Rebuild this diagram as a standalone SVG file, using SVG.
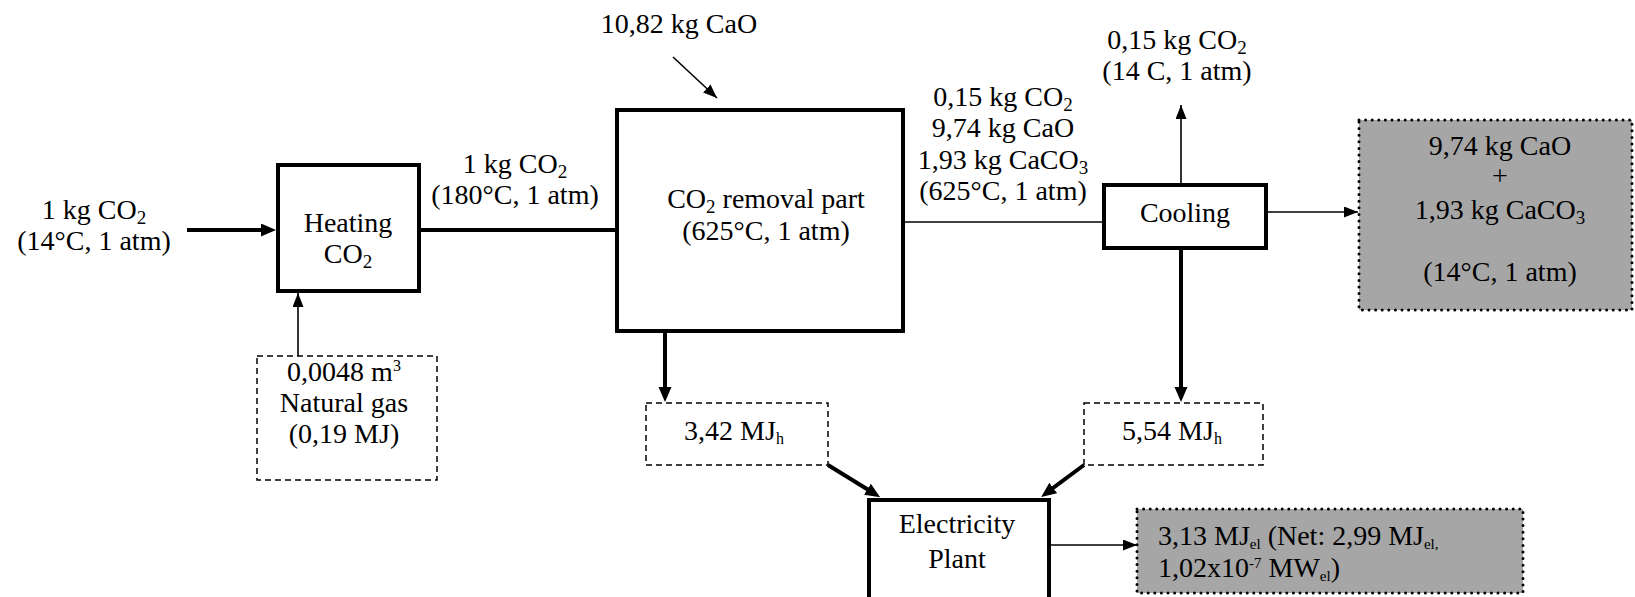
<svg xmlns="http://www.w3.org/2000/svg" width="1635" height="597" viewBox="0 0 1635 597">
<defs>
<style>
text{font-family:"Liberation Serif","Times New Roman",serif;font-size:28px;fill:#000;text-anchor:middle}
text.l{text-anchor:start}
.box{fill:#fff;stroke:#000;stroke-width:4}
.dash{fill:#fff;stroke:#000;stroke-width:1.5;stroke-dasharray:6 4}
.dot{fill:#a6a6a6;stroke:#000;stroke-width:3;stroke-dasharray:0 6.6;stroke-linecap:round}
.thick{fill:none;stroke:#000;stroke-width:4}
.thin{fill:none;stroke:#000;stroke-width:1.6}
</style>
<marker id="ahk" markerUnits="userSpaceOnUse" markerWidth="16" markerHeight="14" refX="8" refY="6.5" orient="auto">
<path d="M0,0 L15,6.5 L0,13 z" fill="#000"/>
</marker>
<marker id="ahn" markerUnits="userSpaceOnUse" markerWidth="15" markerHeight="12" refX="14" refY="5.5" orient="auto">
<path d="M0,0 L14,5.5 L0,11 z" fill="#000"/>
</marker>
</defs>
<rect width="1635" height="597" fill="#fff"/>

<g id="connectors">
<line class="thick" x1="187" y1="230" x2="269" y2="230" marker-end="url(#ahk)"/>
<line class="thick" x1="421" y1="230" x2="615" y2="230"/>
<line class="thin" x1="298" y1="356" x2="298" y2="293" marker-end="url(#ahn)"/>
<line class="thin" x1="673" y1="57" x2="717" y2="98" marker-end="url(#ahn)"/>
<line class="thin" x1="905" y1="222" x2="1102" y2="222"/>
<line class="thin" x1="1181" y1="185" x2="1181" y2="105" marker-end="url(#ahn)"/>
<line class="thin" x1="1268" y1="212" x2="1358" y2="212" marker-end="url(#ahn)"/>
<line class="thick" x1="665" y1="333" x2="665" y2="395" marker-end="url(#ahk)"/>
<line class="thick" x1="1181" y1="250" x2="1181" y2="395" marker-end="url(#ahk)"/>
<line class="thick" x1="828" y1="465" x2="874.2" y2="493.5" marker-end="url(#ahk)"/>
<line class="thick" x1="1084" y1="465" x2="1046.8" y2="492.7" marker-end="url(#ahk)"/>
<line class="thin" x1="1051" y1="545" x2="1137" y2="545" marker-end="url(#ahn)"/>
</g>

<g id="input-label">
<text x="94" y="219">1 kg CO<tspan font-size="19" dy="5">2</tspan></text>
<text x="94" y="250">(14°C, 1 atm)</text>
</g>

<g id="heating">
<rect class="box" x="278" y="165" width="141" height="126"/>
<text x="348" y="232">Heating</text>
<text x="348" y="263">CO<tspan font-size="19" dy="5">2</tspan></text>
</g>

<g id="natural-gas">
<rect class="dash" x="257" y="356" width="180" height="124"/>
<text x="344" y="381">0,0048 m<tspan font-size="16" dy="-10">3</tspan></text>
<text x="344" y="412">Natural gas</text>
<text x="344" y="443">(0,19 MJ)</text>
</g>

<g id="heated-co2-label">
<text x="515" y="173">1 kg CO<tspan font-size="19" dy="5">2</tspan></text>
<text x="515" y="204">(180°C, 1 atm)</text>
</g>

<g id="cao-input">
<text x="679" y="33">10,82 kg CaO</text>
</g>

<g id="co2-removal">
<rect class="box" x="617" y="110" width="286" height="221"/>
<text x="766" y="208">CO<tspan font-size="19" dy="5">2</tspan><tspan dy="-5"> removal part</tspan></text>
<text x="766" y="240">(625°C, 1 atm)</text>
</g>

<g id="removal-output-label">
<text x="1003" y="106">0,15 kg CO<tspan font-size="19" dy="5">2</tspan></text>
<text x="1003" y="137">9,74 kg CaO</text>
<text x="1003" y="169">1,93 kg CaCO<tspan font-size="19" dy="5">3</tspan></text>
<text x="1003" y="200">(625°C, 1 atm)</text>
</g>

<g id="cooling">
<rect class="box" x="1104" y="185" width="162" height="63"/>
<text x="1185" y="222">Cooling</text>
</g>

<g id="co2-out-label">
<text x="1177" y="49">0,15 kg CO<tspan font-size="19" dy="5">2</tspan></text>
<text x="1177" y="80">(14 C, 1 atm)</text>
</g>

<g id="solids-out">
<rect class="dot" x="1359" y="120" width="273" height="190"/>
<text x="1500" y="155">9,74 kg CaO</text>
<text x="1500" y="185" fill="#444">+</text>
<text x="1500" y="219">1,93 kg CaCO<tspan font-size="19" dy="5">3</tspan></text>
<text x="1500" y="281">(14°C, 1 atm)</text>
</g>

<g id="heat-342">
<rect class="dash" x="646" y="403" width="182" height="62"/>
<text x="734" y="440">3,42 MJ<tspan font-size="16" dy="4">h</tspan></text>
</g>

<g id="heat-554">
<rect class="dash" x="1084" y="403" width="179" height="62"/>
<text x="1172" y="440">5,54 MJ<tspan font-size="16" dy="4">h</tspan></text>
</g>

<g id="electricity-plant">
<rect class="box" x="869" y="500" width="180" height="110"/>
<text x="957" y="533">Electricity</text>
<text x="957" y="568">Plant</text>
</g>

<g id="electricity-out">
<rect class="dot" x="1137" y="509" width="386" height="84"/>
<text class="l" x="1158" y="545">3,13 MJ<tspan font-size="15" dy="4">el</tspan><tspan dy="-4"> (Net: 2,99 MJ</tspan><tspan font-size="15" dy="4">el,</tspan></text>
<text class="l" x="1158" y="577">1,02x10<tspan font-size="15" dy="-9">-7</tspan><tspan dy="9"> MW</tspan><tspan font-size="15" dy="4">el</tspan><tspan dy="-4">)</tspan></text>
</g>
</svg>
